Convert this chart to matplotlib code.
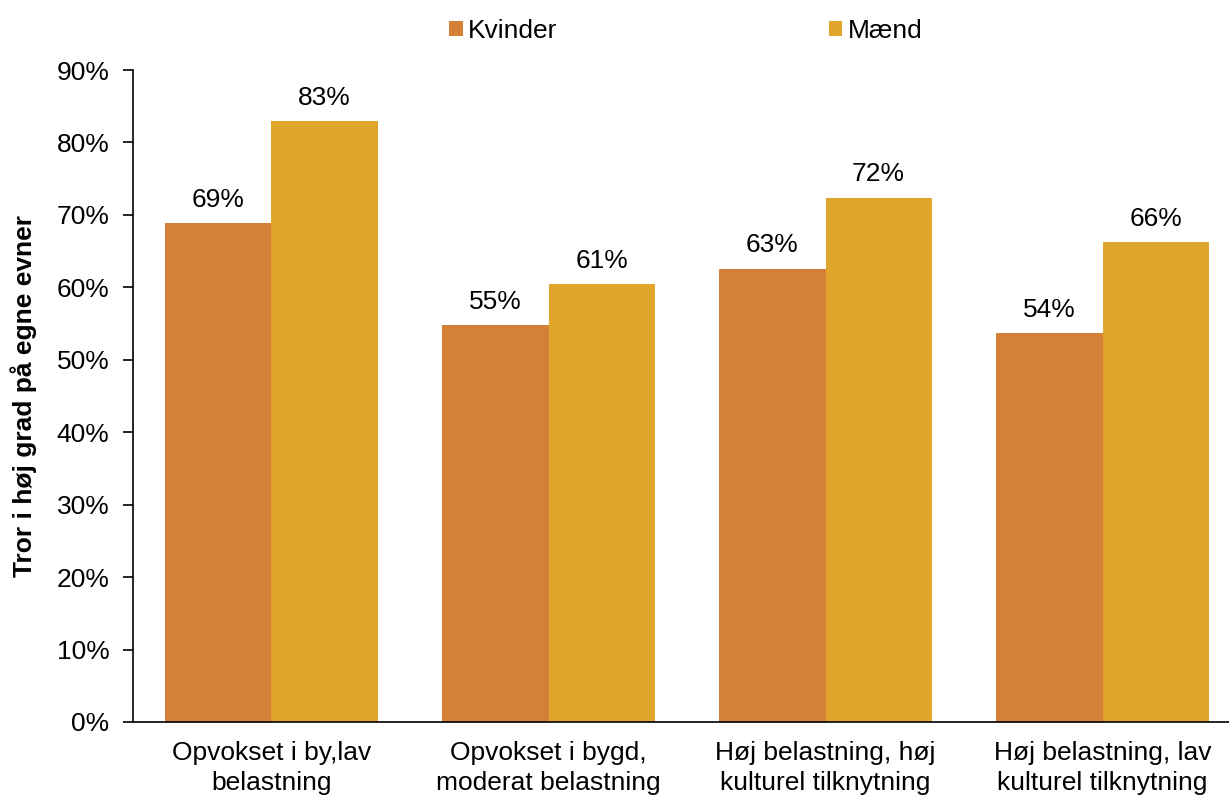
import numpy as np
import matplotlib.pyplot as plt
from matplotlib.ticker import PercentFormatter

plt.rcParams['font.family'] = ['Liberation Sans', 'DejaVu Sans']

categories = ["Opvokset i by,lav\nbelastning",
              "Opvokset i bygd,\nmoderat belastning",
              "Høj belastning, høj\nkulturel tilknytning",
              "Høj belastning, lav\nkulturel tilknytning"]
kvinder = [68.9, 54.8, 62.6, 53.7]
maend = [83.0, 60.5, 72.4, 66.2]
kvinder_labels = ["69%", "55%", "63%", "54%"]
maend_labels = ["83%", "61%", "72%", "66%"]

c_kv = "#D48137"
c_ma = "#E0A52A"
fs = 19

fig = plt.figure(figsize=(12.29, 7.96), dpi=100)
ax = fig.add_axes([0.1082, 0.093, 0.9016, 0.819])

x = np.arange(len(categories))
w = 0.383
b1 = ax.bar(x - w / 2, kvinder, w, color=c_kv, label="Kvinder")
b2 = ax.bar(x + w / 2, maend, w, color=c_ma, label="Mænd")

for bars, labs in [(b1, kvinder_labels), (b2, maend_labels)]:
    for r, t in zip(bars, labs):
        ax.annotate(t, (r.get_x() + r.get_width() / 2, r.get_height()),
                    xytext=(0, 8), textcoords="offset points",
                    ha="center", va="bottom", fontsize=fs)

ax.set_xlim(-0.5, 3.5)
ax.set_ylim(0, 90)
ax.set_yticks(np.arange(0, 91, 10))
ax.yaxis.set_major_formatter(PercentFormatter(decimals=0))
ax.set_xticks(x)
ax.set_xticklabels(categories, fontsize=fs, linespacing=1.27)
ax.tick_params(axis="x", length=0, pad=14)
ax.tick_params(axis="y", labelsize=fs, length=7, width=1.2, direction="out", pad=10)
for s in ["top", "right"]:
    ax.spines[s].set_visible(False)
for s in ["left", "bottom"]:
    ax.spines[s].set_linewidth(1.2)

ax.set_ylabel("Tror i høj grad på egne evner", fontsize=fs, fontweight="bold", labelpad=14)

fig.legend(loc="upper center", bbox_to_anchor=(0.558, 1.006), ncol=2, frameon=False,
           fontsize=fs, handlelength=0.5, handleheight=0.5, handletextpad=0.2,
           columnspacing=10.3)

fig.savefig("out.png", dpi=100)
